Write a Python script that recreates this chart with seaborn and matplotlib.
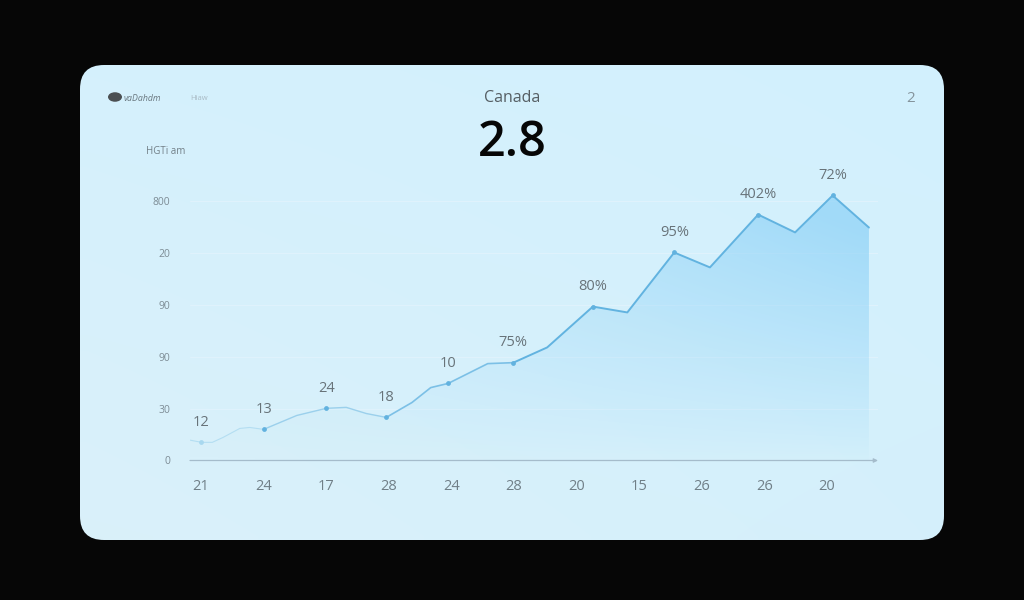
import numpy as np
import pandas as pd
import matplotlib
matplotlib.use("Agg")
import matplotlib.pyplot as plt
from matplotlib.patches import FancyBboxPatch, Polygon, Ellipse
import seaborn as sns

# ---- data ----
title = "Canada"
headline = "2.8"
legend_text = "vaDahdm"
legend_extra = "Hiaw"
corner_text = "2"
y_title = "HGTi am"
x_labels = ["21", "24", "17", "28", "24", "28", "20", "15", "26", "26", "20"]
y_tick_values = [0, 160, 320, 480, 640, 800]
y_tick_labels = ["0", "30", "90", "90", "20", "800"]
# line vertices: position along the category axis, value
line_x = [-0.18, 0.01, 0.18, 0.35, 0.62, 0.78, 1.0, 1.53, 2.0, 2.32, 2.64, 2.96,
          3.37, 3.67, 3.95, 4.58, 4.99, 5.53, 6.26, 6.81, 7.56, 8.13, 8.90, 9.49,
          10.09, 10.67]
line_y = [63, 56, 56, 71, 99, 102, 96, 139, 161, 164, 145, 133,
          179, 225, 238, 299, 302, 349, 475, 457, 642, 596, 759, 704,
          818, 719]
peak_x = [0.0, 1.0, 2.0, 2.96, 3.95, 4.99, 6.26, 7.56, 8.90, 10.09]
peak_y = [56, 96, 161, 133, 238, 302, 475, 642, 759, 818]
peak_labels = ["12", "13", "24", "18", "10", "75%", "80%", "95%", "402%", "72%"]

W, H = 1024, 600
sns.set_theme(style="white")
plt.rcParams["font.family"] = ["Open Sans", "DejaVu Sans"]
fig = plt.figure(figsize=(W / 100, H / 100), dpi=100, facecolor="#060606")

# card layer, in pixel coordinates
bg = fig.add_axes([0, 0, 1, 1], zorder=0)
bg.set_xlim(0, W); bg.set_ylim(H, 0); bg.axis("off")
card = FancyBboxPatch((80 + 24, 65 + 24), 864 - 48, 475 - 48,
                      boxstyle="round,pad=24,rounding_size=24",
                      fc="none", ec="none", transform=bg.transData)
bg.add_patch(card)
c_tl = np.array([0.835, 0.945, 0.990]); c_tr = np.array([0.825, 0.945, 0.995])
c_bl = np.array([0.855, 0.945, 0.980]); c_br = np.array([0.835, 0.940, 0.985])
u, v = np.meshgrid(np.linspace(0, 1, 64), np.linspace(0, 1, 64))
grad = ((1 - u)[..., None] * ((1 - v)[..., None] * c_tl + v[..., None] * c_bl)
        + u[..., None] * ((1 - v)[..., None] * c_tr + v[..., None] * c_br))
im = bg.imshow(grad, extent=(80, 944, 540, 65), aspect="auto", zorder=1, interpolation="bilinear")
im.set_clip_path(card)
bg.set_xlim(0, W); bg.set_ylim(H, 0)

bg.text(512, 98.5, title, ha="center", va="center", fontsize=11.5, color="#555e63", zorder=3)
bg.text(512, 143, headline, ha="center", va="center", fontsize=35, color="#060606",
        fontweight="semibold", zorder=3)
bg.add_patch(Ellipse((115, 97), 14, 9.5, fc="#4b4f52", ec="none", zorder=3))
bg.text(124, 98.5, legend_text, ha="left", va="center", fontsize=6.3, color="#6a7880",
        style="italic", zorder=3)
bg.text(190, 98, legend_extra, ha="left", va="center", fontsize=5.5, color="#a9bac4", zorder=3)
bg.text(911, 98, corner_text, ha="center", va="center", fontsize=11, color="#85949c", zorder=3)
bg.text(146, 152, y_title, ha="left", va="center", fontsize=7, color="#727f87", zorder=3)

# chart axes
ax_l, ax_r, ax_b, ax_t = 190, 878, 460.5, 160
ax = fig.add_axes([ax_l / W, 1 - ax_b / H, (ax_r - ax_l) / W, (ax_b - ax_t) / H], zorder=2)
ax.patch.set_alpha(0)
ax.set_xlim((ax_l - 201) / 62.6, (ax_r - 201) / 62.6)
ax.set_ylim(0, (ax_b - ax_t) / 0.324)
sns.despine(ax=ax, left=True, bottom=True, top=True, right=True)

# area with a soft gradient, stronger towards the upper right
xl, yl = ax.get_xlim(), ax.get_ylim()
gu, gv = np.meshgrid(np.linspace(0, 1, 128), np.linspace(1, 0, 128))
alpha = np.clip((0.10 + 0.62 * gu ** 1.1) * (0.02 + 0.98 * gv ** 0.9) * 1.25, 0, 0.7)
rgba = np.zeros((128, 128, 4))
rgba[..., 0] = 0.55; rgba[..., 1] = 0.82; rgba[..., 2] = 0.97
rgba[..., 3] = alpha
area = ax.imshow(rgba, extent=(xl[0], xl[1], yl[0], yl[1]), aspect="auto", zorder=1,
                 interpolation="bilinear")
poly = Polygon(list(zip(line_x, line_y)) + [(line_x[-1], 0), (line_x[0], 0)],
               closed=True, transform=ax.transData, fc="none", ec="none")
ax.add_patch(poly)
area.set_clip_path(poly)
ax.set_xlim(xl); ax.set_ylim(yl)

for t in y_tick_values[1:]:
    ax.axhline(t, color="#dff2fc", lw=0.8, zorder=0.5)

# line, fading in towards the left
df = pd.DataFrame({"x": line_x, "y": line_y})
sections = [(0, 7, "#b4def2", 0.8), (6, 12, "#9bd0ec", 1.0), (11, 17, "#7cc0e6", 1.2),
            (16, len(df), "#62b3e0", 1.4)]
for a, b, col, lw in sections:
    sns.lineplot(data=df.iloc[a:b], x="x", y="y", ax=ax, color=col, lw=lw, sort=False,
                 errorbar=None, zorder=3, legend=False)

pts = pd.DataFrame({"x": peak_x, "y": peak_y})
sns.scatterplot(data=pts.iloc[:1], x="x", y="y", ax=ax, color="#a8d8ef", s=12, linewidth=0, zorder=4)
sns.scatterplot(data=pts.iloc[1:], x="x", y="y", ax=ax, color="#62b2df", s=12, linewidth=0, zorder=4)

for px, py, lab in zip(peak_x, peak_y, peak_labels):
    ax.annotate(lab, (px, py), xytext=(0, 14.2), textcoords="offset points", ha="center",
                va="center", fontsize=10.5, color="#687379", zorder=5, annotation_clip=False)

ax.set_xticks(range(len(x_labels)), x_labels)
ax.set_yticks(y_tick_values, y_tick_labels)
ax.set_xlabel(""); ax.set_ylabel("")
ax.tick_params(axis="x", length=0, pad=13.5, labelsize=10.5, labelcolor="#707f87")
ax.tick_params(axis="y", length=0, pad=14, labelsize=7.5, labelcolor="#7d8c95")

# axis line with its small arrow head
ax.annotate("", xy=(1.0, 0), xycoords="axes fraction", xytext=(0, 0), textcoords="axes fraction",
            arrowprops=dict(arrowstyle="-|>,head_length=0.2,head_width=0.1", color="#a5bccb",
                            lw=0.9, shrinkA=0, shrinkB=0), annotation_clip=False, zorder=6)

fig.savefig("out.png", dpi=100, facecolor=fig.get_facecolor())
